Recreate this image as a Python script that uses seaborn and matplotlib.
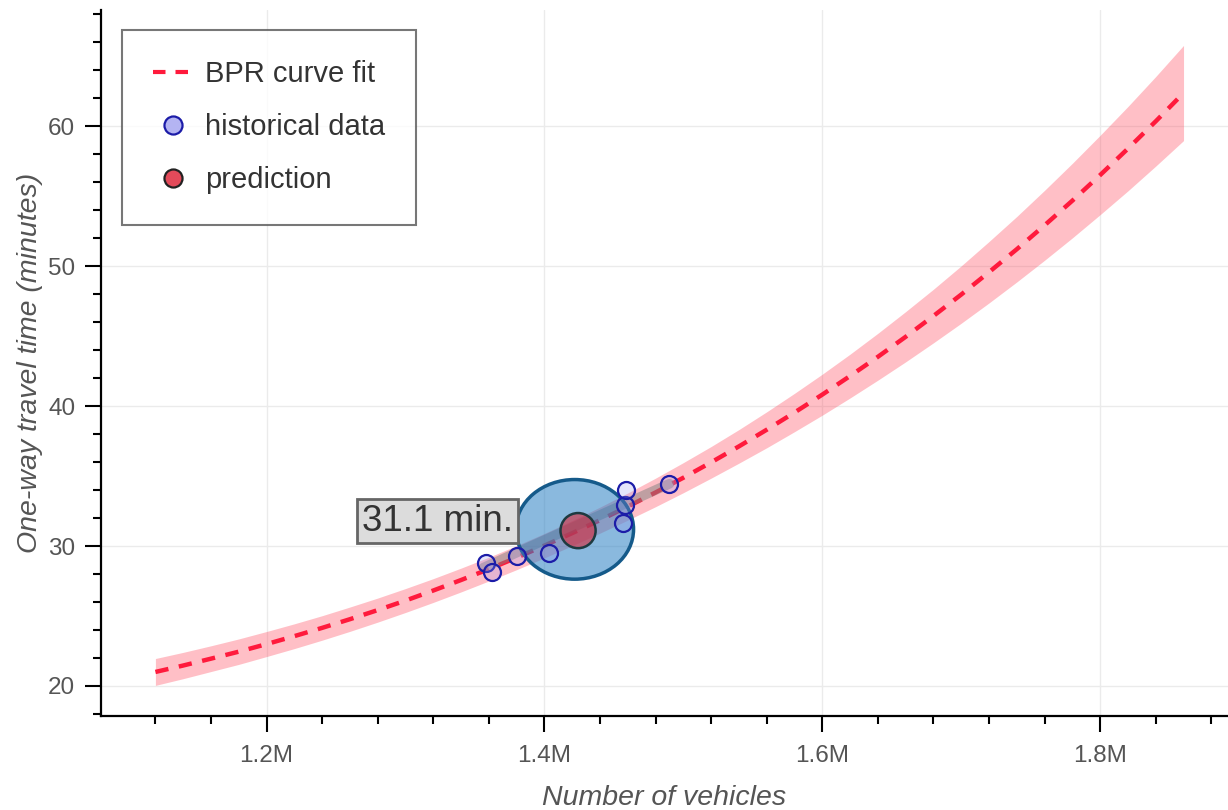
import numpy as np
import pandas as pd
import matplotlib
matplotlib.use("Agg")
import matplotlib.pyplot as plt
from matplotlib.patches import Ellipse
from matplotlib.lines import Line2D
from matplotlib.ticker import FuncFormatter, MultipleLocator
import seaborn as sns

# BPR curve fit (millions of vehicles -> minutes)
fit_x = [1.12, 1.14, 1.16, 1.18, 1.20, 1.22, 1.24, 1.26, 1.28, 1.30,
         1.32, 1.34, 1.36, 1.38, 1.40, 1.42, 1.44, 1.46, 1.48, 1.50,
         1.52, 1.54, 1.56, 1.58, 1.60, 1.62, 1.64, 1.66, 1.68, 1.70,
         1.72, 1.74, 1.76, 1.78, 1.80, 1.82, 1.84, 1.86]
fit_y = [21.00, 21.46, 21.95, 22.45, 22.99, 23.56, 24.15, 24.77, 25.42, 26.10,
         26.82, 27.57, 28.35, 29.17, 30.03, 30.92, 31.85, 32.82, 33.83, 34.88,
         35.98, 37.12, 38.31, 39.54, 40.82, 42.15, 43.52, 44.95, 46.44, 47.97,
         49.57, 51.21, 52.92, 54.68, 56.51, 58.40, 60.35, 62.37]
fit_lo = [20.04, 20.52, 21.03, 21.54, 22.10, 22.67, 23.27, 23.90, 24.56, 25.25,
          25.97, 26.72, 27.50, 28.31, 29.15, 30.02, 30.92, 31.85, 32.81, 33.81,
          34.85, 35.92, 37.02, 38.17, 39.35, 40.58, 41.85, 43.16, 44.52, 45.92,
          47.37, 48.87, 50.42, 52.02, 53.68, 55.38, 57.15, 58.97]
fit_hi = [21.96, 22.40, 22.87, 23.36, 23.89, 24.44, 25.02, 25.64, 26.28, 26.96,
          27.67, 28.42, 29.20, 30.03, 30.90, 31.82, 32.78, 33.79, 34.85, 35.96,
          37.11, 38.32, 39.59, 40.91, 42.28, 43.71, 45.20, 46.75, 48.35, 50.02,
          51.76, 53.55, 55.42, 57.35, 59.35, 61.41, 63.55, 65.77]

# historical observations
hist_x = [1.358, 1.362, 1.380, 1.403, 1.4565, 1.4577, 1.459, 1.490]
hist_y = [28.76, 28.16, 29.28, 29.47, 31.61, 32.92, 33.99, 34.40]

# trend of the historical data (grey strip)
trend_x = [1.356, 1.490]
trend_y = [28.45, 34.45]

# prediction and its uncertainty ellipse
pred_x = 1.4242
pred_y = 31.1
ell_center = (1.4218, 31.19)
ell_size = (0.0847, 7.12)

M = 1e6

sns.set_theme(style="white")
plt.rcParams['font.family'] = ['Liberation Sans', 'DejaVu Sans']

fig = plt.figure(figsize=(12.28, 8.1), dpi=100)
ax = fig.add_axes([0.0822, 0.116, 0.9178, 0.8716])

df_fit = pd.DataFrame({"x": np.array(fit_x) * M, "y": fit_y})
df_hist = pd.DataFrame({"x": np.array(hist_x) * M, "y": hist_y})

# uncertainty band of the fit
ax.fill_between(df_fit["x"], fit_lo, fit_hi, color="#ff4a5e", alpha=0.35,
                linewidth=0, zorder=2)
sns.lineplot(data=df_fit, x="x", y="y", ax=ax, color="#ff1a3c", lw=3.2,
             zorder=3, legend=False)
ax.lines[-1].set_dashes((3, 2.4))

# grey strip along historical data
ax.plot(np.array(trend_x) * M, trend_y, color="grey", alpha=0.5, lw=7,
        solid_capstyle="round", zorder=3)

# uncertainty ellipse of the prediction
ax.add_patch(Ellipse((ell_center[0] * M, ell_center[1]), ell_size[0] * M, ell_size[1],
                     facecolor="#2a80c4", alpha=0.55, edgecolor="none", zorder=4))
ax.add_patch(Ellipse((ell_center[0] * M, ell_center[1]), ell_size[0] * M, ell_size[1],
                     facecolor="none", edgecolor="#155a8a", lw=2.5, zorder=4))

sns.scatterplot(data=df_hist, x="x", y="y", ax=ax, s=150,
                facecolor=(0.6, 0.6, 0.95, 0.25), edgecolor="#1c1ca8",
                linewidth=1.6, zorder=6, legend=False)
ax.scatter([pred_x * M], [pred_y], s=640, color="#d92535", alpha=0.6,
           edgecolor="none", zorder=5)
ax.scatter([pred_x * M], [pred_y], s=640, facecolor="none",
           edgecolor="#1e3a40", linewidth=1.8, zorder=5)

ax.text(1.3773 * M, 31.78, f"{pred_y:.1f} min.", ha="right", va="center",
        fontsize=26.5, color="#333333", zorder=7,
        bbox=dict(boxstyle="square,pad=0.13", facecolor="#dcdcdc",
                  edgecolor="#666666", lw=2))

# legend
handles = [
    Line2D([], [], color="#ff1a3c", lw=3, dashes=(3, 2.4)),
    Line2D([], [], ls="none", marker="o", ms=13, mfc="#b4b4f2",
           mec="#1c1ca8", mew=1.6),
    Line2D([], [], ls="none", marker="o", ms=13, mfc="#e34a5a",
           mec="#222222", mew=1.6),
]
leg = ax.legend(handles, ["BPR curve fit", "historical data", "prediction"],
                loc="upper left", bbox_to_anchor=(0.0186, 0.972),
                fontsize=21, frameon=True, fancybox=False, borderpad=1.05,
                labelspacing=0.85, handlelength=1.4,
                handletextpad=0.4, borderaxespad=0)
leg.get_frame().set_edgecolor("#555555")
leg.get_frame().set_linewidth(1.5)
for t in leg.get_texts():
    t.set_color("#333333")

ax.set_xlim(1.0808 * M, 1.892 * M)
ax.set_ylim(17.85, 68.3)
ax.xaxis.set_major_locator(MultipleLocator(0.2 * M))
ax.xaxis.set_minor_locator(MultipleLocator(0.04 * M))
ax.yaxis.set_major_locator(MultipleLocator(10))
ax.yaxis.set_minor_locator(MultipleLocator(2))
ax.xaxis.set_major_formatter(FuncFormatter(lambda v, p: f"{v / M:.1f}M"))

ax.grid(True, which="major", color="#ebebeb", lw=1)
for side in ["top", "right"]:
    ax.spines[side].set_visible(False)
for side in ["left", "bottom"]:
    ax.spines[side].set_color("black")
    ax.spines[side].set_linewidth(1.6)
ax.tick_params(which="major", direction="out", length=11.5, width=1.5,
               color="black", labelsize=17.5, labelcolor="#555555",
               left=True, bottom=True)
ax.tick_params(axis="x", which="major", pad=9)
ax.tick_params(axis="y", which="major", pad=7)
ax.tick_params(which="minor", direction="out", length=6, width=1.5,
               color="black", left=True, bottom=True)

ax.set_xlabel("Number of vehicles", fontsize=20.5, style="italic",
              color="#555555", labelpad=13)
ax.set_ylabel("One-way travel time (minutes)", fontsize=20.5, style="italic",
              color="#555555", labelpad=4)

fig.savefig("out.png", dpi=100)
